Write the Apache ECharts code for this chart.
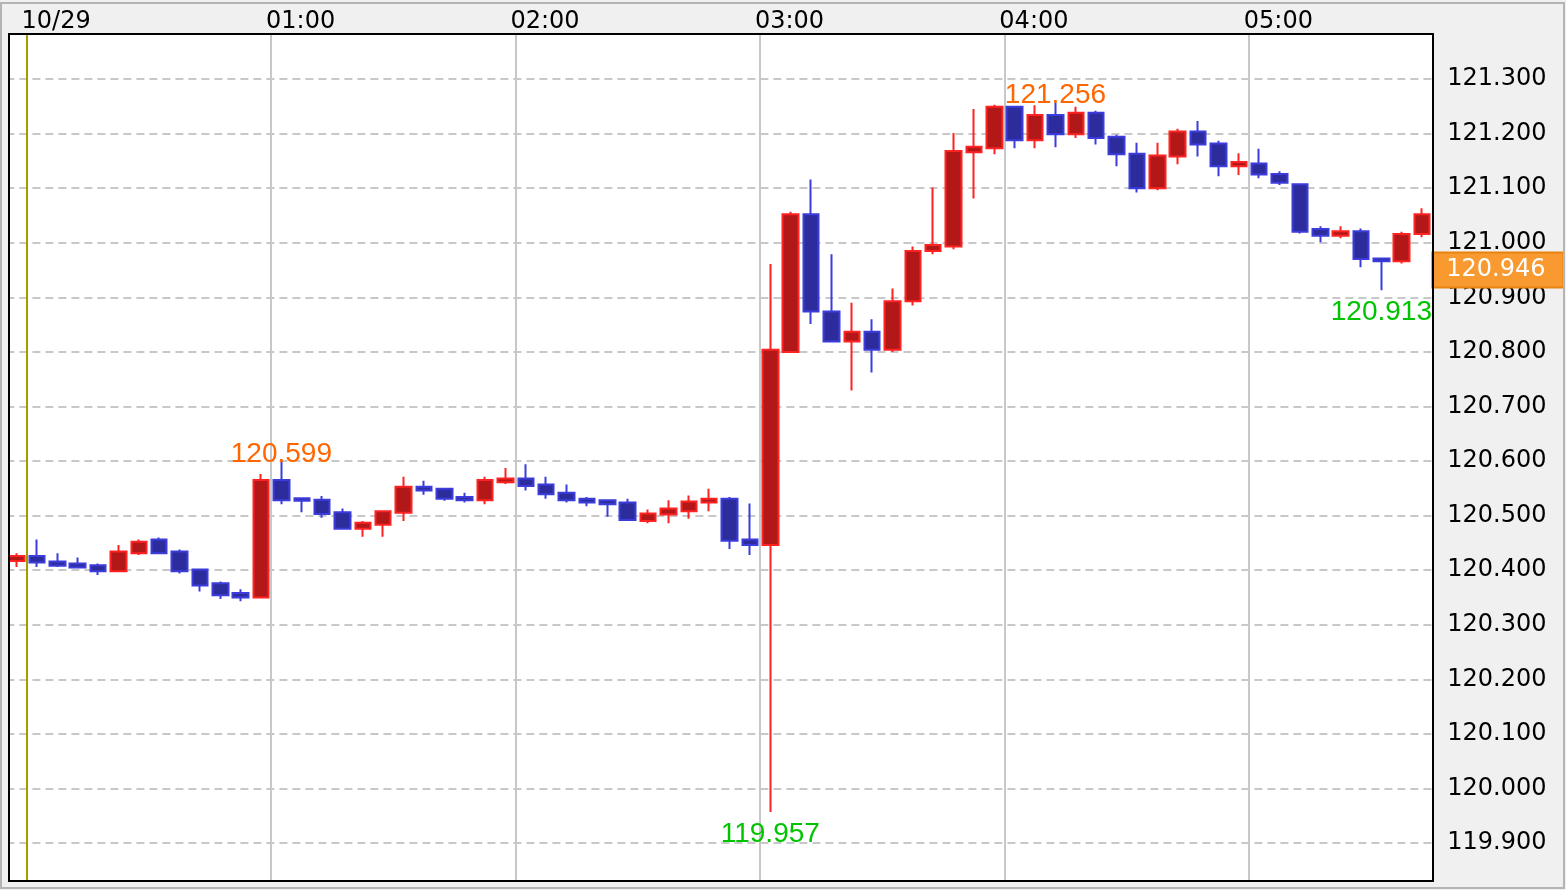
<!DOCTYPE html>
<html>
<head>
<meta charset="utf-8">
<script src="https://cdn.jsdelivr.net/npm/echarts@6/dist/echarts.min.js"></script>
<style>
  html, body { margin: 0; padding: 0; background: #f0f0f0; }
  #chart { width: 1566px; height: 890px; }
</style>
</head>
<body>
<div id="chart"></div>
<script>
// ---- data (5-minute candles, each labelled by its closing time) ----
const times = [
  "00:00","00:05","00:10","00:15","00:20","00:25","00:30","00:35","00:40","00:45","00:50","00:55",
  "01:00","01:05","01:10","01:15","01:20","01:25","01:30","01:35","01:40","01:45","01:50","01:55",
  "02:00","02:05","02:10","02:15","02:20","02:25","02:30","02:35","02:40","02:45","02:50","02:55",
  "03:00","03:05","03:10","03:15","03:20","03:25","03:30","03:35","03:40","03:45","03:50","03:55",
  "04:00","04:05","04:10","04:15","04:20","04:25","04:30","04:35","04:40","04:45","04:50","04:55",
  "05:00","05:05","05:10","05:15","05:20","05:25","05:30","05:35","05:40","05:45"
];
const opens = [
  120.417,120.426,120.416,120.412,120.409,120.398,120.431,120.456,120.434,120.401,120.376,120.358,
  120.350,120.565,120.532,120.529,120.506,120.476,120.483,120.505,120.553,120.549,120.534,120.528,
  120.561,120.568,120.557,120.542,120.531,120.528,120.524,120.490,120.502,120.508,120.524,120.531,
  120.456,120.446,120.800,121.052,120.874,120.819,120.837,120.804,120.893,120.985,120.993,121.166,
  121.173,121.249,121.188,121.234,121.199,121.238,121.194,121.163,121.100,121.158,121.204,121.182,
  121.140,121.145,121.126,121.107,121.025,121.013,121.021,120.971,120.966,121.016
];
const highs = [
  120.431,120.456,120.431,120.423,120.412,120.446,120.456,120.460,120.438,120.401,120.379,120.365,
  120.576,120.599,120.532,120.536,120.513,120.490,120.508,120.571,120.564,120.549,120.542,120.571,
  120.587,120.594,120.571,120.557,120.534,120.528,120.531,120.511,120.528,120.537,120.549,120.534,
  120.522,120.961,121.057,121.116,120.979,120.890,120.860,120.916,120.993,121.101,121.201,121.245,
  121.253,121.249,121.252,121.256,121.249,121.242,121.198,121.183,121.183,121.209,121.223,121.187,
  121.164,121.172,121.131,121.107,121.030,121.030,121.026,120.971,121.020,121.063
];
const lows = [
  120.406,120.406,120.406,120.404,120.391,120.398,120.428,120.431,120.394,120.361,120.347,120.343,
  120.350,120.521,120.506,120.496,120.476,120.461,120.461,120.490,120.538,120.527,120.524,120.521,
  120.558,120.546,120.531,120.524,120.517,120.498,120.492,120.486,120.486,120.494,120.508,120.439,
  120.428,119.957,120.800,120.851,120.819,120.729,120.762,120.800,120.885,120.979,120.988,121.081,
  121.162,121.173,121.173,121.175,121.192,121.180,121.140,121.092,121.096,121.144,121.158,121.122,
  121.124,121.118,121.106,121.017,121.001,121.008,120.955,120.913,120.962,121.010
];
const closes = [
  120.426,120.414,120.408,120.405,120.398,120.434,120.452,120.431,120.398,120.372,120.354,120.350,
  120.565,120.528,120.527,120.503,120.476,120.487,120.508,120.553,120.546,120.531,120.528,120.565,
  120.568,120.554,120.539,120.528,120.524,120.521,120.492,120.504,120.513,120.526,120.531,120.454,
  120.446,120.804,121.052,120.874,120.819,120.837,120.804,120.893,120.985,120.996,121.168,121.176,
  121.249,121.188,121.234,121.199,121.238,121.192,121.162,121.100,121.160,121.204,121.180,121.140,
  121.148,121.125,121.110,121.020,121.013,121.021,120.970,120.966,121.016,121.052
];
const dateLabel = { "00:00": "10/29" };
const lastPrice = 120.946;
// marked extremes: [candle index, 'high' | 'low']
const extremeMarks = [[13, "high"], [51, "high"], [37, "low"], [67, "low"]];
// visible value range of the plot and grid step
const yMin = 119.8304, yMax = 121.3825, yStep = 0.1;

// ---- chart ----
const FONT = "DejaVu Sans";
const chart = echarts.init(document.getElementById("chart"), null, { renderer: "canvas" });

const candleData = opens.map((o, i) => [o, closes[i], lows[i], highs[i]]);
const markData = extremeMarks.map(([idx, kind]) => {
  const v = kind === "high" ? highs[idx] : lows[idx];
  return {
    coord: [times[idx], v],
    value: v,
    label: {
      position: kind === "high" ? "top" : "bottom",
      distance: kind === "high" ? -7 : 8,
      color: kind === "high" ? "#ff6600" : "#00c400"
    }
  };
});

const plot = { x: 9, y: 34, w: 1424, h: 847 };
const gridLeft = 6.4, gridRightEdge = 1432.3;

chart.setOption({
  backgroundColor: "#f0f0f0",
  animation: false,
  grid: {
    left: gridLeft,
    width: gridRightEdge - gridLeft,
    top: plot.y,
    height: plot.h,
    show: false
  },
  xAxis: {
    type: "category",
    data: times,
    position: "top",
    boundaryGap: true,
    axisLine: { show: false },
    axisTick: { show: false },
    axisLabel: {
      interval: (idx) => idx % 12 === 0,
      formatter: (v) => dateLabel[v] || v,
      align: "left",
      padding: [0, 0, 0, 5],
      margin: 0,
      color: "#000",
      fontFamily: FONT,
      fontSize: 24
    },
    splitLine: {
      show: true,
      interval: (idx) => idx % 12 === 1,
      lineStyle: {
        color: ["#a39b00", "#c8c8c8", "#c8c8c8", "#c8c8c8", "#c8c8c8", "#c8c8c8", "#c8c8c8", "#c8c8c8"],
        width: 2,
        type: "solid"
      }
    }
  },
  yAxis: {
    type: "value",
    position: "right",
    min: yMin,
    max: yMax,
    splitNumber: 15,
    minInterval: yStep,
    maxInterval: yStep,
    axisLine: { show: false },
    axisTick: { show: false },
    axisLabel: {
      showMinLabel: false,
      showMaxLabel: false,
      margin: 15,
      color: "#000",
      fontFamily: FONT,
      fontSize: 24,
      formatter: (v) => v.toFixed(3)
    },
    splitLine: {
      show: true,
      lineStyle: { color: "#c8c8c8", width: 2, type: [8, 5] }
    }
  },
  series: [{
    type: "candlestick",
    data: candleData,
    barWidth: 16,
    itemStyle: {
      color: "#b31818",
      color0: "#2c2c9c",
      borderColor: "#ff2222",
      borderColor0: "#3c3cdc",
      borderWidth: 2
    },
    emphasis: { disabled: true },
    markPoint: {
      silent: true,
      symbol: "circle",
      symbolSize: 1,
      itemStyle: { color: "rgba(0,0,0,0)" },
      label: {
        show: true,
        fontFamily: "Liberation Sans",
        fontSize: 28,
        formatter: (p) => Number(p.value).toFixed(3)
      },
      data: markData
    },
    markLine: {
      silent: true,
      clip: false,
      symbol: ["none", "none"],
      lineStyle: { color: "rgba(0,0,0,0)", width: 1, type: "solid" },
      label: {
        show: true,
        position: "end",
        distance: 1,
        backgroundColor: "#f89a30",
        borderColor: "#e8830f",
        borderWidth: 2,
        color: "#fff",
        fontFamily: FONT,
        fontSize: 24,
        padding: [5, 17, 4, 13],
        formatter: () => lastPrice.toFixed(3)
      },
      data: [{ yAxis: lastPrice }]
    }
  }],
  graphic: [
    { type: "rect", z: -1, shape: { x: plot.x, y: plot.y, width: plot.w, height: plot.h }, style: { fill: "#ffffff" } },
    { type: "rect", z: 99, shape: { x: 0, y: 0, width: plot.x - 1, height: 890 }, style: { fill: "#f0f0f0" } },
    { type: "rect", z: 100, shape: { x: plot.x, y: plot.y, width: plot.w, height: plot.h }, style: { fill: null, stroke: "#000", lineWidth: 2 } },
    { type: "rect", z: 101, shape: { x: 1, y: 3, width: 1563, height: 885 }, style: { fill: null, stroke: "#b4b4b4", lineWidth: 2 } }
  ]
});
</script>
</body>
</html>
